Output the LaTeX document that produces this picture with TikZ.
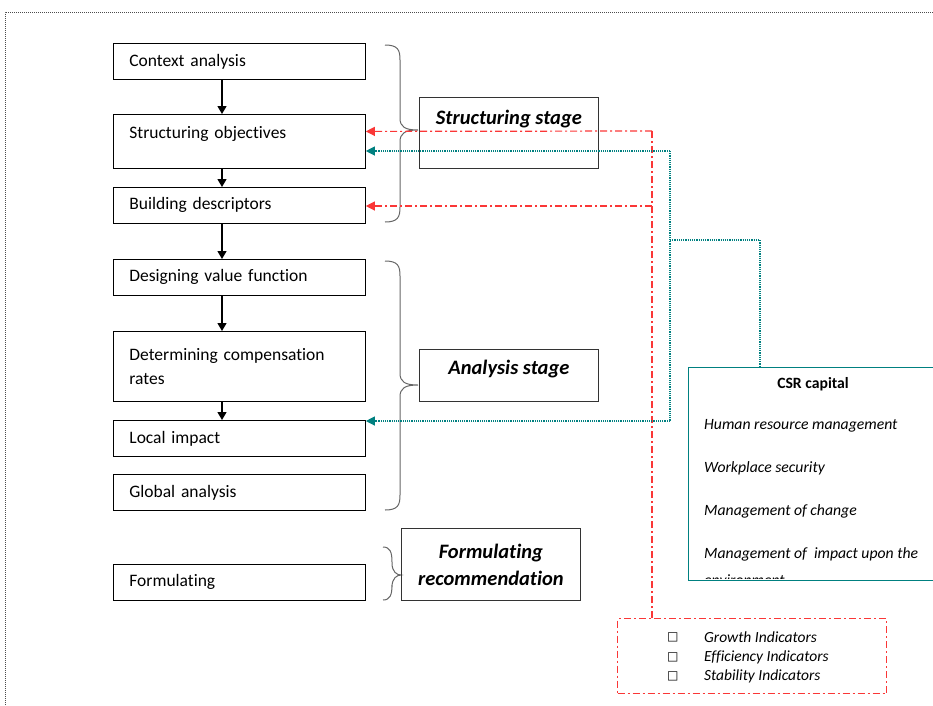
\documentclass[tikz,border=0pt]{standalone}
\usepackage{fontspec}
\setmainfont{Carlito}[Ligatures=CommonOff]
\newfontfamily\symfont{DejaVu Sans}
\usetikzlibrary{arrows.meta,calc}
\definecolor{redl}{RGB}{250,55,55}
\definecolor{tealc}{RGB}{0,128,128}
\newcommand{\mybrace}[6]{%
 \draw[bracestyle] (#1,#4) .. controls (#2-2,#4) and (#2,#4+5) .. (#2,#4+15) -- (#2,#5-12) .. controls (#2,#5-3) and (#2+5,#5) .. (#3,#5) .. controls (#2+5,#5) and (#2,#5+3) .. (#2,#5+12) -- (#2,#6-15) .. controls (#2,#6-5) and (#2-2,#6) .. (#1,#6);}
\begin{document}
\begin{tikzpicture}[x=1pt,y=-1pt,
 box/.style={draw=black, line width=0.8pt, text width=220pt, inner xsep=16pt, inner ysep=0pt, align=left, minimum height=36pt, anchor=north west, font=\fontsize{17.5}{24}\selectfont},
 stagebox/.style={draw=black!80, line width=0.8pt, minimum width=179pt, inner xsep=0pt, inner ysep=8pt, align=center, anchor=north west, font=\fontsize{20.5}{27}\selectfont\bfseries\itshape},
 flow/.style={-{Triangle[width=9pt,length=8pt]}, line width=1.3pt},
 bracestyle/.style={draw=black!60, line width=1pt},
 redline/.style={draw=redl, line width=1.2pt, dash pattern=on 7pt off 3pt on 2pt off 3pt},
 redarrow/.style={redline, -{Triangle[width=9pt,length=9pt,fill=redl]}},
 tealline/.style={draw=tealc, line width=1.2pt, dash pattern=on 1.2pt off 1pt},
 tealarrow/.style={tealline, -{Triangle[width=9pt,length=9pt,fill=tealc]}},
 csrtext/.style={anchor=west, inner sep=0pt, font=\fontsize{15.7}{18}\selectfont\itshape},
 indtext/.style={anchor=west, inner sep=0pt, font=\fontsize{15.5}{18}\selectfont\itshape}
]
\useasboundingbox (0,0) rectangle (933,705);
% outer dotted frame
\draw[black!70, line width=0.8pt, dash pattern=on 1pt off 1pt] (5,705) -- (5,12) -- (933,12);

% left column
\node[box] (ca) at (113,43) {Context analysis};
\node[box, text height=24pt, text depth=30pt] (so) at (113,114) {Structuring objectives};
\node[box] (bd) at (113,187) {Building descriptors};
\node[box] (dv) at (113,259) {Designing value function};
\node[box, minimum height=70pt] (dc) at (113,331) {Determining compensation\\rates};
\node[box] (li) at (113,420) {Local impact};
\node[box] (ga) at (113,474) {Global analysis};
\node[box] (fo) at (113,564) {Formulating};

\coordinate (ax) at (222,0);
\draw[flow] (ax |- ca.south) -- (ax |- so.north);
\draw[flow] (ax |- so.south) -- (ax |- bd.north);
\draw[flow] (ax |- bd.south) -- (ax |- dv.north);
\draw[flow] (ax |- dv.south) -- (ax |- dc.north);
\draw[flow] (ax |- dc.south) -- (ax |- li.north);

% braces
\mybrace{385}{400}{418}{45}{130}{222}
\mybrace{385}{400}{418}{261}{385}{510}
\mybrace{383}{392}{401}{547}{575}{600}

% stage boxes
\node[stagebox, text height=19pt, text depth=36pt] (ss) at (419,97) {Structuring stage};
\node[stagebox, text height=17pt, text depth=19pt] (as) at (419,349) {Analysis stage};
\node[stagebox, inner ysep=6pt, minimum height=72pt] (fr) at (401,528) {Formulating\\recommendation};

% CSR box
\node[draw=tealc, line width=1.2pt, minimum width=260pt, minimum height=213pt, anchor=north west, inner sep=0pt] (csr) at (688,367) {};
\begin{scope}
\clip (688,367) rectangle (940,578);
\node[anchor=center, inner sep=0pt, font=\fontsize{15.7}{18}\selectfont\bfseries] (csrt) at (813,384) {CSR capital};
\node[csrtext] (c1) at (704,426) {Human resource management};
\node[csrtext] (c2) at (704,468) {Workplace security};
\node[csrtext] (c3) at (704,511) {Management of change};
\node[csrtext] (c4) at (704,554) {Management of\ \ impact upon the};
\node[csrtext] (c5) at (704,580) {environment};
\end{scope}

% indicators box
\node[redline, minimum width=269pt, minimum height=75pt, anchor=north west, inner sep=0pt] (ind) at (617,618) {};
\node[indtext, font=\fontsize{12}{15}\selectfont\symfont] (s1) at (667,637) {□};
\node[indtext, font=\fontsize{12}{15}\selectfont\symfont] (s2) at (667,657) {□};
\node[indtext, font=\fontsize{12}{15}\selectfont\symfont] (s3) at (667,676) {□};
\node[indtext] (g1) at (704,637) {Growth Indicators};
\node[indtext] (g2) at (704,657) {Efficiency Indicators};
\node[indtext] (g3) at (704,676) {Stability Indicators};

% red connectors
\coordinate (rt) at (652,131);
\coordinate (rm) at (652,206);
\draw[redline] (ind.north -| rt) -- (rt);
\draw[redarrow] (rt) -- ([yshift=10pt]so.east);
\draw[redarrow] (rm) -- (bd.east |- rm);

% teal connectors
\coordinate (tt) at (670,151);
\coordinate (tb) at (670,421);
\coordinate (tm) at (670,240);
\coordinate (tr) at (760,240);
\draw[tealline] (tt) -- (tb);
\draw[tealarrow] (tt) -- (so.east |- tt);
\draw[tealarrow] (tb) -- (li.east |- tb);
\draw[tealline] (tm) -- (tr) -- (tr |- csr.north);
\end{tikzpicture}
\end{document}
